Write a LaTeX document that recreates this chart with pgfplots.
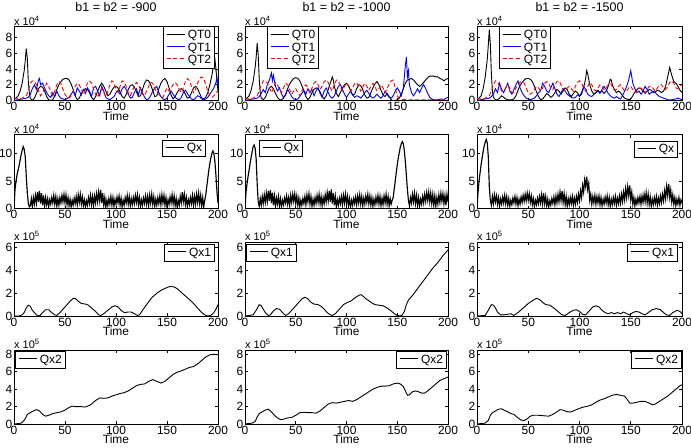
\documentclass[border=0pt]{standalone}
\usepackage{fontspec}
\setmainfont{Liberation Sans}
\usepackage{pgfplots}
\pgfplotsset{compat=1.18}
\definecolor{mblue}{rgb}{0,0,1}
\definecolor{mred}{rgb}{1,0,0}
\newcommand{\fs}{\fontsize{12}{13}\selectfont}
\newcommand{\lsolid}[1]{\textcolor{#1}{\rule[0.33em]{18bp}{1bp}}\hspace{3bp}}
\newcommand{\ldash}{\textcolor{mred}{\rule[0.33em]{4bp}{1bp}\hspace{2.5bp}\rule[0.33em]{4bp}{1bp}\hspace{2.5bp}\rule[0.33em]{4bp}{1bp}}\hspace{4bp}}
\pgfplotsset{
  panel/.style={
    scale only axis, anchor=south west, height=74bp,
    xmin=0, xmax=200, xtick={0,50,100,150,200},
    tick align=inside, tick pos=both, major tick length=3bp,
    axis line style={line width=0.8bp}, every tick/.style={black, line width=0.6bp},
    tick label style={font=\fs, inner sep=1.5bp},
    /pgf/number format/assume math mode=true,
    xlabel={Time}, xlabel style={font=\fs, inner sep=0pt, yshift=1bp},
    legend style={font=\fs, draw, line width=0.9bp, inner sep=1.5bp, row sep=-1.5bp, cells={anchor=west}},
    legend image code/.code={},
    every axis plot/.append style={line width=0.9bp},
    title style={font=\fontsize{12.5}{14}\selectfont, anchor=base, yshift=9bp, inner sep=0pt},
  },
  xpow/.style={after end axis/.code={\node[anchor=south west, inner sep=0pt, yshift=1bp, font=\fontsize{11}{12}\selectfont] at (rel axis cs:0,1) {x 10\textsuperscript{#1}};}},
  r1/.style={ymin=0, ymax=9.4, ytick={0,2,4,6,8}, xpow=4},
  r2/.style={ymin=0, ymax=13.5, ytick={0,5,10}, xpow=4},
  r3/.style={ymin=0, ymax=6.5, ytick={0,2,4,6}, xpow=5},
  r4/.style={ymin=0, ymax=8.5, ytick={0,2,4,6,8}, xpow=5},
  qt0/.style={color=black},
  qt1/.style={color=mblue},
  qt2/.style={color=mred, dash pattern=on 4bp off 2.5bp},
  qx/.style={color=black, line width=1.15bp},
}
\begin{document}
\begin{tikzpicture}
\useasboundingbox (0bp,0bp) rectangle (691bp,-448bp);
%================ ROW 1 ================
\begin{axis}[panel, r1, at={(14bp,-100.5bp)}, width=204bp, title={b1 = b2 = -900},
  legend style={at={(1,1)}, anchor=north east, xshift=-3bp}]
\addplot[qt0] coordinates {(0,0.2)(2,0.3)(4,0.6)(6,1.2)(8,2.2)(10,3.8)(11,5.0)(12,6.6)(13,5.5)(14,2.5)(15,1.0)(16,0.3)(18,0)(20,0.3)(22,0.9)(24,1.5)(26,1.8)(28,1.7)(30,1.2)(32,0.5)(34,0.1)(36,0)(38,0.1)(40,0.6)(42,1.4)(44,2.0)(46,2.4)(48,2.7)(50,2.8)(52,2.8)(54,2.6)(56,2.1)(58,1.4)(60,0.6)(62,0.1)(64,0.3)(66,0.9)(68,1.3)(70,1.5)(72,1.4)(74,1.0)(76,0.4)(78,0.1)(80,0.5)(82,1.2)(84,1.8)(86,2.2)(88,1.8)(90,1.2)(92,0.6)(94,0.8)(96,1.3)(98,1.7)(100,1.8)(102,1.6)(104,1.1)(106,0.5)(108,0.3)(110,0.8)(112,1.4)(114,1.9)(116,2.0)(118,1.7)(120,1.1)(122,0.5)(124,0.6)(126,1.4)(128,2.2)(130,2.6)(132,2.5)(134,2.0)(136,1.3)(138,0.5)(140,0.6)(142,1.5)(144,2.2)(146,2.6)(148,2.8)(150,2.4)(152,1.6)(154,0.7)(156,0.2)(158,0.5)(160,1.0)(162,1.4)(164,1.5)(166,1.3)(168,0.8)(170,0.3)(172,0.4)(174,1.0)(176,1.6)(178,1.8)(180,1.5)(182,0.9)(184,0.3)(186,0.2)(188,0.4)(190,1.0)(192,2.0)(194,3.2)(196,4.8)(197,5.2)(198,4.0)(199,2.5)(200,1.2)};
\addlegendentry{\lsolid{black}QT0}
\addplot[qt1] coordinates {(0,0)(4,0.1)(8,0.2)(12,0.3)(14,0.4)(16,0.8)(18,1.5)(20,2.0)(22,1.4)(24,2.6)(25,2.8)(26,2.0)(28,2.2)(30,1.6)(32,1.0)(34,0.6)(36,0.4)(38,1.0)(40,0.5)(42,1.2)(44,0.6)(46,0.3)(48,0.2)(50,0.1)(54,0.4)(56,0.8)(58,1.2)(60,0.6)(62,1.6)(64,1.2)(66,0.7)(68,1.4)(70,0.9)(72,1.6)(74,1.2)(76,0.5)(78,1.6)(80,1.8)(82,1.2)(84,0.6)(86,1.8)(88,1.2)(90,0.4)(92,0.2)(94,0.1)(96,0.3)(98,0.5)(100,1.0)(102,1.3)(104,0.8)(106,1.5)(108,1.8)(110,1.4)(112,0.8)(114,0.3)(116,0.4)(118,1.0)(120,1.5)(122,0.7)(124,1.6)(126,1.0)(128,0.4)(130,0.1)(132,0.2)(134,0.6)(136,1.2)(138,1.6)(140,1.8)(142,1.0)(144,0.5)(146,0.2)(148,0.1)(150,0.3)(152,0.8)(154,1.2)(156,0.8)(158,0.4)(160,0.2)(162,0.1)(164,0.4)(166,1.0)(168,1.3)(170,0.9)(172,0.5)(174,0.2)(176,0.1)(178,0.3)(180,0.6)(182,0.5)(184,0.2)(186,0.1)(188,0.2)(190,0.4)(192,0.8)(194,1.2)(196,1.6)(198,2.3)(199,2.9)(200,1.8)};
\addlegendentry{\lsolid{mblue}QT1}
\addplot[qt2] coordinates {(0,0.3)(4,0.2)(8,0.3)(12,0.6)(14,1.2)(16,2.2)(18,2.5)(20,2.4)(22,2.0)(24,1.2)(26,0.6)(28,1.0)(30,1.6)(32,2.2)(34,1.8)(36,1.2)(38,0.6)(40,1.2)(42,2.0)(44,2.4)(46,2.2)(48,1.4)(50,0.8)(52,0.4)(54,0.3)(56,0.6)(58,1.2)(60,1.8)(62,2.2)(64,2.0)(66,1.4)(68,0.8)(70,1.4)(72,2.2)(74,2.5)(76,2.2)(78,1.5)(80,0.8)(82,0.4)(84,1.0)(86,1.5)(88,1.0)(90,0.5)(92,1.2)(94,2.0)(96,2.5)(98,2.2)(100,1.4)(102,1.0)(104,1.8)(106,2.5)(108,2.4)(110,1.8)(112,1.0)(114,0.6)(116,1.2)(118,1.8)(120,2.3)(122,2.0)(124,1.4)(126,0.8)(128,0.6)(130,1.2)(132,1.8)(134,2.3)(136,2.2)(138,1.6)(140,1.0)(142,0.8)(144,0.5)(146,0.4)(148,1.0)(150,1.6)(152,1.2)(154,1.6)(156,2.0)(158,2.3)(160,2.0)(162,1.4)(164,1.0)(166,1.6)(168,2.4)(170,2.8)(172,2.5)(174,1.8)(176,1.0)(178,1.4)(180,2.2)(182,2.8)(184,3.0)(186,2.8)(188,2.0)(190,1.2)(192,0.6)(194,0.4)(196,0.6)(198,1.0)(200,1.2)};
\addlegendentry{\ldash QT2}
\end{axis}
\begin{axis}[panel, r1, at={(245bp,-100.5bp)}, width=203bp, title={b1 = b2 = -1000},
  legend style={at={(0,1)}, anchor=north west, xshift=22bp}]
\addplot[qt0] coordinates {(0,0.2)(2,0.3)(4,0.6)(6,1.3)(8,2.4)(10,4.2)(11,5.5)(12,7.3)(13,5.8)(14,2.8)(15,1.0)(16,0.3)(18,0.1)(20,0.4)(22,1.0)(24,1.6)(26,1.8)(28,1.5)(30,0.9)(32,0.4)(34,0.1)(36,0.1)(38,0.3)(40,0.8)(42,1.5)(44,2.1)(46,2.5)(48,2.8)(50,2.9)(52,2.8)(54,2.5)(56,1.9)(58,1.2)(60,0.5)(62,0.1)(64,0.4)(66,1.0)(68,1.4)(70,1.6)(72,1.5)(74,1.1)(76,0.5)(78,0.2)(80,0.6)(82,1.4)(84,2.2)(86,3.0)(87,2.6)(88,1.8)(90,0.9)(92,0.5)(94,1.0)(96,1.6)(98,2.0)(100,2.2)(102,1.9)(104,1.3)(106,0.7)(108,0.8)(110,1.5)(112,2.0)(114,1.9)(116,1.4)(118,0.7)(120,0.3)(122,0.4)(124,1.0)(126,1.6)(128,2.1)(130,2.4)(132,2.0)(134,1.3)(136,0.7)(138,0.5)(140,0.9)(142,0.5)(144,0.1)(146,0)(148,0)(150,0.1)(152,0.3)(154,0.8)(156,1.5)(158,2.2)(160,2.6)(162,2.7)(164,2.8)(166,2.6)(168,2.3)(170,2.0)(172,1.8)(174,2.0)(176,2.3)(178,2.6)(180,2.9)(182,3.1)(184,3.1)(186,3.1)(188,3.0)(190,3.0)(192,2.8)(194,2.7)(196,2.5)(198,2.7)(200,2.8)};
\addlegendentry{\lsolid{black}QT0}
\addplot[qt1] coordinates {(0,0)(4,0.1)(8,0.2)(12,0.3)(14,0.5)(16,0.9)(18,1.4)(20,1.0)(22,2.0)(24,2.6)(26,3.5)(27,2.5)(28,3.2)(30,1.8)(32,1.2)(34,1.6)(36,0.8)(38,0.4)(40,0.7)(42,1.4)(44,1.0)(46,0.5)(48,0.2)(50,0.1)(52,0.2)(54,0.5)(56,0.9)(58,1.3)(60,0.8)(62,1.5)(64,1.0)(66,1.4)(68,0.6)(70,1.2)(72,1.6)(74,0.9)(76,0.4)(78,1.2)(80,1.6)(82,1.0)(84,0.5)(86,0.3)(88,0.6)(90,1.2)(92,1.8)(94,2.0)(96,1.4)(98,0.8)(100,0.4)(102,0.8)(104,1.2)(106,0.7)(108,0.4)(110,0.6)(112,0.5)(114,0.3)(116,0.6)(118,1.0)(120,1.3)(122,0.9)(124,0.5)(126,0.3)(128,0.5)(130,0.8)(132,0.5)(134,0.3)(136,0.6)(138,1.2)(140,0.8)(142,0.4)(144,0.3)(146,0.6)(148,1.2)(150,1.6)(152,1.2)(154,0.6)(156,1.6)(158,4.5)(159,5.5)(160,3.0)(161,3.8)(162,2.0)(164,1.0)(166,0.6)(168,1.0)(170,1.5)(172,1.0)(174,1.6)(176,2.0)(178,1.5)(180,0.9)(182,0.4)(184,0.2)(186,0.1)(190,0.1)(194,0.2)(196,0.1)(198,0.3)(200,0.4)};
\addlegendentry{\lsolid{mblue}QT1}
\addplot[qt2] coordinates {(0,0.2)(4,0.2)(8,0.3)(12,0.6)(14,1.2)(16,2.0)(18,2.5)(20,2.5)(22,2.2)(24,1.6)(26,1.0)(28,1.5)(30,2.3)(32,2.0)(34,1.4)(36,1.0)(38,1.6)(40,2.2)(42,2.0)(44,1.4)(46,0.8)(48,1.2)(50,1.5)(52,1.0)(54,0.6)(56,1.2)(58,1.8)(60,2.0)(62,1.6)(64,1.0)(66,1.6)(68,2.2)(70,2.4)(72,2.0)(74,1.4)(76,1.8)(78,2.4)(80,2.6)(82,2.3)(84,1.6)(86,1.2)(88,2.0)(90,2.6)(92,2.5)(94,1.8)(96,1.2)(98,1.8)(100,2.2)(102,1.8)(104,1.2)(106,1.6)(108,2.1)(110,2.3)(112,1.8)(114,1.2)(116,1.7)(118,2.2)(120,1.8)(122,1.3)(124,1.8)(126,2.2)(128,1.8)(130,1.2)(132,1.5)(134,2.0)(136,1.6)(138,1.0)(140,1.5)(142,2.1)(144,2.5)(146,2.6)(148,1.6)(150,0.6)(152,0.3)(154,0.2)(158,0.1)(170,0.1)(180,0.1)(190,0.1)(200,0.1)};
\addlegendentry{\ldash QT2}
\end{axis}
\begin{axis}[panel, r1, at={(477bp,-100.5bp)}, width=205bp, title={b1 = b2 = -1500},
  legend style={at={(0,1)}, anchor=north west, xshift=22bp}]
\addplot[qt0] coordinates {(0,0.2)(2,0.3)(4,0.6)(6,1.5)(8,3.0)(10,5.2)(11,7.0)(12,9.0)(13,7.2)(14,3.5)(15,1.2)(16,0.4)(18,0.1)(20,0.1)(22,0.3)(24,0.6)(26,0.4)(28,0.2)(30,0.1)(32,0.1)(34,0.1)(36,0.2)(38,0.6)(40,1.3)(42,1.9)(44,2.3)(46,2.6)(48,2.8)(50,2.8)(52,2.7)(54,2.4)(56,1.8)(58,1.1)(60,0.5)(62,0.1)(64,0.2)(66,0.5)(68,0.9)(70,0.7)(72,0.4)(74,0.6)(76,1.0)(78,1.4)(80,1.2)(82,0.8)(84,1.2)(86,1.6)(88,1.4)(90,0.8)(92,0.5)(94,0.9)(96,1.2)(98,1.0)(100,0.5)(102,0.8)(104,1.6)(106,2.8)(107,3.8)(108,3.4)(110,2.0)(112,1.2)(114,0.8)(116,1.0)(118,1.3)(120,1.0)(122,1.2)(124,0.9)(126,1.2)(128,1.8)(130,2.7)(131,2.6)(132,2.0)(134,1.4)(136,1.0)(138,1.2)(140,1.0)(142,0.6)(144,0.3)(146,0.2)(148,0.1)(150,0.2)(152,0.6)(154,1.1)(156,1.4)(158,1.6)(160,1.5)(162,1.2)(164,0.9)(166,1.2)(168,1.4)(170,1.3)(172,1.0)(174,1.1)(176,1.3)(178,1.2)(180,1.0)(182,1.2)(184,1.8)(186,3.0)(188,4.2)(190,3.2)(192,2.4)(194,2.2)(196,1.8)(198,1.3)(200,1.0)};
\addlegendentry{\lsolid{black}QT0}
\addplot[qt1] coordinates {(0,0)(4,0.1)(8,0.2)(12,0.3)(14,0.5)(16,0.8)(18,1.5)(20,1.0)(22,2.2)(24,1.4)(26,1.0)(28,1.6)(30,2.2)(32,1.2)(34,0.8)(36,1.4)(38,2.0)(40,2.5)(42,1.6)(44,1.0)(46,0.6)(48,0.3)(50,0.2)(52,0.1)(54,0.2)(56,0.3)(58,0.6)(60,1.0)(62,1.2)(64,2.2)(66,1.8)(68,1.2)(70,1.0)(72,1.6)(74,2.2)(76,1.5)(78,0.8)(80,0.5)(82,1.0)(84,1.5)(86,1.2)(88,0.8)(90,0.6)(92,0.4)(94,0.3)(96,0.4)(98,0.7)(100,0.6)(102,1.0)(104,1.8)(106,1.4)(108,0.8)(110,0.6)(112,0.5)(114,0.8)(116,1.0)(118,1.2)(120,0.9)(122,1.4)(124,1.8)(126,1.4)(128,0.9)(130,0.6)(132,0.4)(134,0.3)(136,0.5)(138,0.3)(140,0.2)(142,0.6)(144,1.2)(146,1.8)(148,2.6)(150,3.8)(152,2.2)(154,1.5)(156,1.0)(158,1.2)(160,0.8)(162,1.2)(164,1.8)(166,1.4)(168,0.8)(170,1.0)(172,1.2)(174,1.0)(176,0.7)(178,0.5)(180,0.4)(182,0.3)(184,0.2)(186,0.1)(190,0.1)(194,0.2)(196,0.3)(198,0.2)(200,0.1)};
\addlegendentry{\lsolid{mblue}QT1}
\addplot[qt2] coordinates {(0,0.2)(4,0.2)(8,0.3)(12,0.6)(14,1.2)(16,2.0)(18,2.5)(20,2.4)(22,1.8)(24,1.2)(26,1.2)(28,1.6)(30,2.0)(32,1.6)(34,1.0)(36,1.0)(38,1.6)(40,2.0)(42,2.3)(44,2.4)(46,2.2)(48,1.6)(50,1.0)(52,0.8)(54,1.0)(56,1.4)(58,1.8)(60,1.6)(62,1.2)(64,1.6)(66,2.2)(68,2.4)(70,2.2)(72,1.6)(74,1.4)(76,2.0)(78,2.4)(80,2.5)(82,2.0)(84,1.4)(86,1.2)(88,1.6)(90,1.8)(92,1.5)(94,1.2)(96,1.8)(98,2.3)(100,2.5)(102,2.2)(104,1.6)(106,1.2)(108,1.8)(110,2.3)(112,2.0)(114,1.4)(116,1.2)(118,1.6)(120,2.0)(122,1.8)(124,1.4)(126,1.6)(128,2.0)(130,2.2)(132,1.8)(134,1.3)(136,1.4)(138,1.8)(140,2.0)(142,1.6)(144,1.2)(146,1.2)(148,1.6)(150,1.8)(152,1.4)(154,1.0)(156,1.2)(158,1.5)(160,1.6)(162,1.3)(164,1.0)(166,1.4)(168,1.8)(170,1.8)(172,1.5)(174,1.2)(176,1.6)(178,2.0)(180,2.0)(182,1.6)(184,1.4)(186,1.8)(188,2.3)(190,2.5)(192,2.2)(194,1.6)(196,1.5)(198,1.8)(200,2.0)};
\addlegendentry{\ldash QT2}
\end{axis}
%================ ROW 2 ================
\begin{axis}[panel, r2, at={(14bp,-208.5bp)}, width=204bp,
  legend style={at={(1,1)}, anchor=north east, xshift=-12bp, yshift=-5bp}]
\addplot[qx] coordinates {(0,0)(1,3.5)(2,5.0)(3,6.2)(4,7.0)(5,7.8)(6,8.8)(7,9.8)(8,10.6)(9,11.3)(10,10.8)(11,9.5)(12,6.0)(13,3.0)(14,1.0)(15,0.3)
(16,0.5)(17,1.8)(18,0.3)(19,2.0)(20,0.8)(21,2.4)(22,1.0)(23,3.0)(24,1.2)(25,3.2)(26,0.9)(27,2.8)(28,0.6)(29,2.4)(30,0.4)(31,2.0)(32,0.7)(33,1.8)(34,0.3)(35,1.6)(36,0.8)(37,2.0)(38,1.0)(39,2.4)(40,0.8)(41,2.2)(42,0.4)(43,1.8)(44,0.6)(45,2.0)(46,1.0)(47,2.4)(48,1.2)(49,2.6)(50,1.0)(51,2.5)(52,0.7)(53,2.0)(54,0.5)(55,1.7)(56,0.3)(57,1.5)(58,0.6)(59,1.9)(60,0.9)(61,2.2)(62,0.7)(63,2.5)(64,1.1)(65,2.6)(66,0.8)(67,2.1)(68,0.5)(69,1.6)(70,0.3)(71,1.4)(72,0.6)(73,2.0)(74,0.9)(75,2.4)(76,0.7)(77,2.2)(78,0.5)(79,2.3)(80,1.0)(81,2.7)(82,1.2)(83,3.0)(84,1.4)(85,3.4)(86,1.0)(87,2.8)(88,0.6)(89,2.0)(90,0.2)(91,1.5)(92,0.5)(93,1.8)(94,0.8)(95,2.2)(96,0.6)(97,2.0)(98,0.4)(99,1.7)(100,0.8)(101,2.1)(102,1.0)(103,2.3)(104,0.6)(105,1.9)(106,0.3)(107,1.5)(108,0.6)(109,2.0)(110,1.0)(111,2.4)(112,0.8)(113,2.2)(114,0.5)(115,1.8)(116,0.7)(117,2.0)(118,0.9)(119,2.4)(120,1.1)(121,2.5)(122,0.7)(123,2.0)(124,0.4)(125,1.6)(126,0.6)(127,1.9)(128,0.9)(129,2.3)(130,0.8)(131,2.2)(132,0.5)(133,2.4)(134,1.0)(135,2.6)(136,0.8)(137,2.2)(138,0.4)(139,1.7)(140,0.6)(141,2.0)(142,0.9)(143,2.3)(144,0.7)(145,2.5)(146,1.0)(147,2.4)(148,0.6)(149,2.0)(150,0.3)(151,1.6)(152,0.7)(153,2.1)(154,1.0)(155,2.5)(156,0.8)(157,2.3)(158,0.5)(159,1.8)(160,0.2)(161,1.5)(162,0.6)(163,2.2)(164,1.0)(165,3.0)(166,1.2)(167,2.6)(168,0.7)(169,2.0)(170,0.4)(171,1.6)(172,0.7)(173,2.0)(174,0.9)(175,2.4)(176,0.6)(177,2.2)(178,0.8)(179,2.6)(180,1.1)(181,2.8)(182,0.9)(183,2.4)(184,0.5)(185,2.0)(186,0.3)(187,1.5)
(188,2.5)(189,4.0)(190,5.5)(191,7.0)(192,8.2)(193,9.2)(194,10.0)(195,10.5)(196,10.0)(197,8.5)(198,6.0)(199,3.0)(200,1.0)};
\addlegendentry{\lsolid{black}Qx}
\end{axis}
\begin{axis}[panel, r2, at={(245bp,-208.5bp)}, width=203bp,
  legend style={at={(0,1)}, anchor=north west, xshift=14bp, yshift=-5bp}]
\addplot[qx] coordinates {(0,0)(1,3.0)(2,4.5)(3,5.8)(4,7.0)(5,8.2)(6,9.3)(7,10.3)(8,11.3)(9,11.6)(10,11.0)(11,9.0)(12,4.5)(13,1.2)
(14,0.4)(15,1.8)(16,0.6)(17,2.2)(18,0.9)(19,2.5)(20,1.1)(21,2.8)(22,1.3)(23,3.2)(24,1.4)(25,3.4)(26,1.0)(27,2.9)(28,0.6)(29,2.3)(30,0.4)(31,1.9)(32,0.8)(33,2.2)(34,0.5)(35,1.8)(36,0.3)(37,1.5)(38,0.7)(39,1.9)(40,1.0)(41,2.3)(42,0.8)(43,2.0)(44,0.5)(45,2.4)(46,1.1)(47,2.6)(48,1.3)(49,2.7)(50,0.9)(51,2.3)(52,0.6)(53,1.9)(54,0.3)(55,1.5)(56,0.6)(57,1.8)(58,0.9)(59,2.2)(60,0.7)(61,2.5)(62,1.2)(63,2.7)(64,0.8)(65,2.2)(66,0.4)(67,1.7)(68,0.6)(69,2.0)(70,0.9)(71,2.4)(72,1.1)(73,2.6)(74,0.8)(75,2.2)(76,0.5)(77,2.0)(78,0.9)(79,2.5)(80,1.2)(81,2.9)(82,1.4)(83,3.2)(84,1.2)(85,3.5)(86,0.9)(87,2.8)(88,0.6)(89,2.2)(90,0.3)(91,1.6)(92,0.6)(93,1.9)(94,0.9)(95,2.2)(96,0.7)(97,2.4)(98,1.0)(99,2.6)(100,0.8)(101,2.2)(102,0.5)(103,1.8)(104,0.3)(105,1.5)(106,0.6)(107,1.8)(108,0.9)(109,2.1)(110,0.7)(111,2.3)(112,1.0)(113,2.5)(114,0.8)(115,2.2)(116,0.5)(117,1.9)(118,0.8)(119,2.3)(120,1.1)(121,2.6)(122,0.9)(123,2.3)(124,0.6)(125,2.0)(126,0.4)(127,1.7)(128,0.7)(129,2.1)(130,1.0)(131,2.4)(132,0.8)(133,2.2)(134,0.5)(135,1.9)(136,0.7)(137,2.3)(138,1.0)(139,2.6)(140,0.8)(141,2.2)(142,0.5)(143,1.8)(144,0.8)(145,1.5)
(146,2.0)(147,3.5)(148,5.0)(149,6.5)(150,8.0)(151,9.2)(152,10.2)(153,11.2)(154,11.8)(155,12.2)(156,11.8)(157,10.5)(158,8.5)(159,6.0)(160,3.5)(161,1.5)
(162,0.5)(163,2.0)(164,1.0)(165,2.6)(166,1.2)(167,2.8)(168,0.9)(169,2.4)(170,0.6)(171,2.0)(172,0.4)(173,1.7)(174,0.8)(175,2.2)(176,1.0)(177,2.6)(178,1.3)(179,2.9)(180,1.5)(181,3.0)(182,1.2)(183,2.8)(184,0.9)(185,2.6)(186,0.6)(187,2.3)(188,0.4)(189,2.0)(190,0.8)(191,2.5)(192,1.1)(193,2.8)(194,1.3)(195,2.7)(196,0.9)(197,2.4)(198,0.6)(199,2.6)(200,1.2)};
\addlegendentry{\lsolid{black}Qx}
\end{axis}
\begin{axis}[panel, r2, at={(477bp,-208.5bp)}, width=205bp,
  legend style={at={(1,1)}, anchor=north east, xshift=-4bp, yshift=-6bp}]
\addplot[qx] coordinates {(0,0)(1,3.0)(2,5.0)(3,6.5)(4,8.0)(5,9.2)(6,10.4)(7,11.4)(8,12.1)(9,12.6)(10,12.0)(11,9.5)(12,4.0)
(13,1.5)(14,0.6)(15,2.2)(16,0.9)(17,2.5)(18,1.2)(19,2.3)(20,0.8)(21,2.0)(22,0.5)(23,1.7)(24,0.8)(25,2.1)(26,1.0)(27,2.4)(28,0.9)(29,2.2)(30,0.6)(31,1.8)(32,0.4)(33,1.5)(34,0.7)(35,1.9)(36,1.0)(37,2.2)(38,0.8)(39,2.0)(40,0.5)(41,1.7)(42,0.8)(43,2.1)(44,1.1)(45,2.4)(46,1.3)(47,2.6)(48,1.4)(49,2.8)(50,1.5)(51,2.7)(52,1.1)(53,2.3)(54,0.7)(55,1.8)(56,0.4)(57,1.5)(58,0.7)(59,1.9)(60,0.9)(61,2.2)(62,1.0)(63,2.5)(64,0.8)(65,2.8)(66,0.9)(67,2.2)(68,0.5)(69,1.7)(70,0.3)(71,1.4)(72,0.6)(73,1.8)(74,0.9)(75,2.1)(76,0.7)(77,2.3)(78,1.0)(79,2.6)(80,1.2)(81,3.0)(82,1.4)(83,3.2)(84,1.1)(85,2.7)(86,0.7)(87,2.2)(88,0.4)(89,1.8)(90,0.7)(91,2.0)(92,0.9)(93,2.2)(94,0.6)(95,1.9)(96,0.8)(97,2.2)(98,1.1)(99,2.6)(100,1.4)(101,3.2)(102,2.0)(103,4.2)(104,3.0)(105,5.2)(106,4.0)(107,5.8)(108,3.5)(109,4.6)(110,1.5)(111,2.6)(112,0.8)(113,2.2)(114,1.0)(115,2.4)(116,0.8)(117,2.2)(118,1.0)(119,2.3)(120,0.7)(121,2.0)(122,0.5)(123,1.7)(124,0.8)(125,2.1)(126,1.0)(127,2.3)(128,0.7)(129,2.0)(130,0.4)(131,1.7)(132,0.7)(133,2.0)(134,0.9)(135,2.2)(136,0.6)(137,1.9)(138,0.9)(139,2.3)(140,1.0)(141,2.6)(142,1.3)(143,3.0)(144,1.6)(145,3.6)(146,2.0)(147,4.0)(148,2.4)(149,4.2)(150,1.6)(151,3.0)(152,0.8)(153,2.0)(154,0.5)(155,1.7)(156,0.8)(157,2.0)(158,1.0)(159,2.2)(160,0.8)(161,2.3)(162,1.1)(163,2.6)(164,1.2)(165,2.9)(166,1.0)(167,2.6)(168,0.7)(169,2.1)(170,0.4)(171,1.7)(172,0.7)(173,2.0)(174,0.9)(175,2.2)(176,0.6)(177,1.9)(178,0.9)(179,2.3)(180,1.1)(181,2.6)(182,1.4)(183,3.2)(184,1.8)(185,4.0)(186,2.4)(187,4.5)(188,2.0)(189,3.4)(190,1.2)(191,2.5)(192,0.8)(193,2.0)(194,0.5)(195,1.7)(196,0.8)(197,2.0)(198,0.6)(199,1.6)(200,0.9)};
\addlegendentry{\lsolid{black}Qx}
\end{axis}
%================ ROW 3 ================
\begin{axis}[panel, r3, at={(14bp,-316bp)}, width=204bp,
  legend style={at={(1,1)}, anchor=north east, xshift=-3bp, yshift=-2bp}]
\addplot[qt0] coordinates {(0,0)(5,0)(8,0.1)(10,0.3)(12,0.7)(14,0.95)(16,0.85)(18,0.5)(20,0.3)(22,0.1)(25,0)(28,0.3)(31,0.55)(34,0.55)(37,0.3)(40,0.1)(42,0.05)(45,0.3)(50,0.8)(55,1.3)(58,1.55)(60,1.55)(63,1.3)(66,1.1)(70,1.05)(73,0.95)(76,0.7)(80,0.4)(83,0.1)(85,0.05)(88,0.2)(92,0.5)(96,0.8)(99,0.9)(102,0.8)(105,0.5)(108,0.3)(112,0.35)(115,0.35)(118,0.2)(121,0.05)(123,0.1)(126,0.5)(130,1.0)(135,1.6)(140,2.0)(145,2.3)(150,2.5)(153,2.6)(157,2.55)(160,2.4)(165,2.0)(170,1.6)(175,1.2)(180,0.7)(184,0.3)(187,0.1)(190,0)(193,0.05)(196,0.3)(198,0.6)(200,1.0)};
\addlegendentry{\lsolid{black}Qx1}
\end{axis}
\begin{axis}[panel, r3, at={(245bp,-316bp)}, width=203bp,
  legend style={at={(0,1)}, anchor=north west, xshift=1bp, yshift=-2bp}]
\addplot[qt0] coordinates {(0,0)(8,0.1)(11,0.5)(14,1.0)(16,0.9)(18,0.6)(20,0.3)(23,0.05)(25,0.1)(28,0.45)(31,0.65)(34,0.6)(37,0.3)(40,0.05)(43,0.2)(47,0.6)(52,1.1)(56,1.5)(59,1.65)(62,1.5)(65,1.2)(68,1.05)(72,1.0)(75,0.85)(78,0.6)(81,0.3)(84,0.1)(86,0.05)(89,0.2)(93,0.6)(97,1.0)(101,1.2)(104,1.3)(107,1.5)(110,1.7)(113,1.85)(115,1.85)(118,1.6)(121,1.4)(125,1.15)(128,1.0)(132,0.95)(136,0.9)(140,0.7)(144,0.45)(147,0.2)(150,0.05)(153,0.0)(155,0.1)(157,0.4)(159,1.0)(161,1.4)(165,1.8)(170,2.4)(175,3.0)(180,3.6)(185,4.2)(190,4.7)(195,5.3)(200,5.8)};
\addlegendentry{\lsolid{black}Qx1}
\end{axis}
\begin{axis}[panel, r3, at={(477bp,-316bp)}, width=205bp,
  legend style={at={(1,1)}, anchor=north east, xshift=-4bp, yshift=-2bp}]
\addplot[qt0] coordinates {(0,0)(8,0.05)(11,0.5)(14,1.0)(16,0.95)(18,0.7)(20,0.35)(23,0.1)(26,0.1)(30,0.15)(33,0.2)(36,0.05)(40,0.3)(45,0.7)(50,1.1)(55,1.4)(58,1.55)(61,1.45)(64,1.2)(67,1.0)(71,0.95)(75,0.7)(79,0.4)(83,0.1)(86,0.05)(90,0.3)(94,0.5)(97,0.55)(100,0.4)(103,0.15)(106,0.1)(109,0.4)(113,0.8)(116,0.9)(119,0.8)(122,0.5)(125,0.3)(128,0.2)(131,0.3)(134,0.2)(137,0.3)(140,0.2)(143,0.35)(146,0.2)(149,0.1)(152,0.3)(155,0.4)(158,0.35)(161,0.2)(164,0.1)(167,0.3)(171,0.55)(175,0.65)(179,0.55)(182,0.3)(185,0.1)(188,0.05)(191,0.3)(195,0.5)(198,0.4)(200,0.2)};
\addlegendentry{\lsolid{black}Qx1}
\end{axis}
%================ ROW 4 ================
\begin{axis}[panel, r4, at={(14bp,-424bp)}, width=204bp,
  legend style={at={(0,1)}, anchor=north west, xshift=1bp, yshift=-1bp}]
\addplot[qt0] coordinates {(0,0)(4,0.05)(7,0.1)(9,0.3)(11,0.6)(13,1.1)(16,1.3)(19,1.5)(22,1.65)(25,1.5)(28,1.1)(31,0.9)(34,1.0)(38,1.2)(42,1.3)(46,1.4)(50,1.6)(54,1.9)(57,2.05)(60,2.0)(65,2.0)(70,1.95)(75,2.2)(80,2.7)(84,3.0)(88,2.95)(92,3.0)(96,3.2)(100,3.35)(104,3.5)(108,3.6)(112,3.8)(116,4.1)(120,4.4)(124,4.55)(128,4.6)(132,4.9)(136,5.1)(140,4.9)(144,4.7)(148,4.9)(152,5.3)(156,5.7)(160,5.95)(164,6.1)(168,6.3)(172,6.5)(176,6.6)(180,6.9)(184,7.3)(188,7.7)(192,7.95)(196,8.0)(200,7.95)};
\addlegendentry{\lsolid{black}Qx2}
\end{axis}
\begin{axis}[panel, r4, at={(245bp,-424bp)}, width=203bp,
  legend style={at={(1,1)}, anchor=north east, xshift=-1bp, yshift=-1bp}]
\addplot[qt0] coordinates {(0,0)(7,0.1)(10,0.3)(12,0.8)(14,1.2)(17,1.4)(20,1.6)(23,1.7)(26,1.4)(29,1.0)(32,0.7)(35,0.5)(38,0.55)(42,0.7)(46,0.75)(50,1.0)(54,1.3)(58,1.35)(62,1.3)(66,1.3)(70,1.25)(74,1.5)(78,1.9)(82,2.3)(86,2.45)(90,2.4)(94,2.5)(98,2.6)(102,2.7)(106,2.6)(110,2.8)(114,3.1)(118,3.4)(122,3.7)(126,4.0)(130,4.2)(134,4.35)(138,4.35)(142,4.4)(146,4.6)(150,4.7)(153,4.6)(156,4.3)(158,3.8)(160,3.3)(162,3.35)(165,3.7)(168,3.8)(171,3.7)(174,3.55)(177,3.55)(180,3.8)(184,4.2)(188,4.6)(192,5.0)(196,5.2)(200,5.4)};
\addlegendentry{\lsolid{black}Qx2}
\end{axis}
\begin{axis}[panel, r4, at={(477bp,-424bp)}, width=205bp,
  legend style={at={(1,1)}, anchor=north east, xshift=0bp, yshift=-1bp}]
\addplot[qt0] coordinates {(0,0)(8,0.1)(11,0.4)(13,1.0)(15,1.3)(18,1.5)(21,1.7)(24,1.75)(27,1.55)(30,1.4)(33,1.2)(36,1.1)(40,0.7)(43,0.45)(46,0.4)(49,0.6)(52,0.9)(55,1.0)(60,1.0)(65,0.95)(70,0.9)(74,1.1)(78,1.4)(81,1.65)(84,1.6)(88,1.4)(92,1.4)(96,1.6)(100,1.8)(104,1.95)(108,2.05)(112,2.2)(116,2.5)(120,2.75)(124,2.9)(128,3.1)(132,3.3)(136,3.4)(140,3.3)(144,3.2)(146,2.9)(149,2.4)(152,2.4)(156,2.5)(160,2.6)(164,2.6)(168,2.4)(171,2.2)(174,2.3)(178,2.6)(182,2.9)(186,3.2)(190,3.6)(194,4.0)(198,4.4)(200,4.5)};
\addlegendentry{\lsolid{black}Qx2}
\end{axis}
\end{tikzpicture}
\end{document}
